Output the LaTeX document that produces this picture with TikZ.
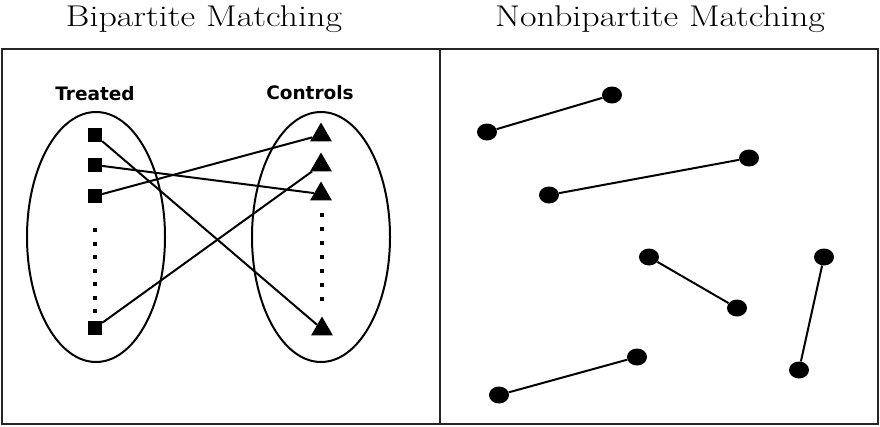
\documentclass[tikz,border=0pt]{standalone}
\usepackage{fontspec}
\usepackage{graphicx}
\newfontfamily\lblfont{DejaVu Sans}
\usetikzlibrary{shapes.geometric}
\begin{document}
\begin{tikzpicture}[x=1pt,y=1pt,
  frame/.style={line width=2.2pt, draw=black!85},
  edge/.style={line width=2pt},
  grp/.style={draw, line width=2pt, ellipse, inner sep=0pt, minimum width=138pt, minimum height=250pt},
  sq/.style={fill=black, minimum size=14pt, inner sep=0pt},
  tri/.style={regular polygon, regular polygon sides=3, fill=black, inner sep=0pt, minimum size=25pt},
  dot/.style={ellipse, fill=black, inner sep=0pt, minimum width=20pt, minimum height=17pt},
  ttl/.style={anchor=base, font=\fontsize{30}{34}\selectfont},
  lbl/.style={font=\lblfont\bfseries\fontsize{18.5}{21}\selectfont},
  dotsline/.style={line width=4pt, dash pattern=on 4pt off 9.5pt}
]
\useasboundingbox (0,0) rectangle (880,-426);
% titles
\node[ttl] (tb) at (204,-26) {\scalebox{1.2}[1]{Bipartite Matching}};
\node[ttl] (tn) at (660,-26) {\scalebox{1.2}[1]{Nonbipartite Matching}};
% frames
\draw[frame] (2,-49) rectangle (878,-424);
\draw[frame] (440,-49) -- (440,-424);
% left panel
\node[lbl] (lt) at (95,-94) {Treated};
\node[lbl] (lc) at (310,-93) {Controls};
\node[grp] (gl) at (96,-237) {};
\node[grp] (gr) at (321,-237) {};
\node[sq] (s1) at (95,-135) {};
\node[sq] (s2) at (95,-165) {};
\node[sq] (s3) at (95,-196) {};
\node[sq] (s4) at (95,-328) {};
\node[tri] (t1) at (321,-135) {};
\node[tri] (t2) at (321,-165) {};
\node[tri] (t3) at (321,-194) {};
\node[tri] (t4) at (322,-329) {};
\coordinate (la) at (95,-228);
\coordinate (lb) at (95,-313);
\coordinate (ra) at (322,-213);
\coordinate (rb) at (322,-301);
\draw[dotsline] (la) -- (lb);
\draw[line width=4pt, dash pattern=on 4pt off 10pt] (ra) -- (rb);
\draw[edge] (s1) -- (t4);
\draw[edge] (s2) -- (t3);
\draw[edge] (s3) -- (t1);
\draw[edge] (s4) -- (t2);
% right panel
\node[dot] (d1) at (487,-132) {};
\node[dot] (d2) at (612,-95) {};
\node[dot] (d3) at (749,-158) {};
\node[dot] (d4) at (549,-195) {};
\node[dot] (d5) at (649,-257) {};
\node[dot] (d6) at (737,-308) {};
\node[dot] (d7) at (824,-257) {};
\node[dot] (d8) at (799,-370) {};
\node[dot] (d9) at (637,-357) {};
\node[dot] (d10) at (499,-395) {};
\draw[edge] (d1) -- (d2);
\draw[edge] (d4) -- (d3);
\draw[edge] (d5) -- (d6);
\draw[edge] (d7) -- (d8);
\draw[edge] (d10) -- (d9);
\end{tikzpicture}
\end{document}
